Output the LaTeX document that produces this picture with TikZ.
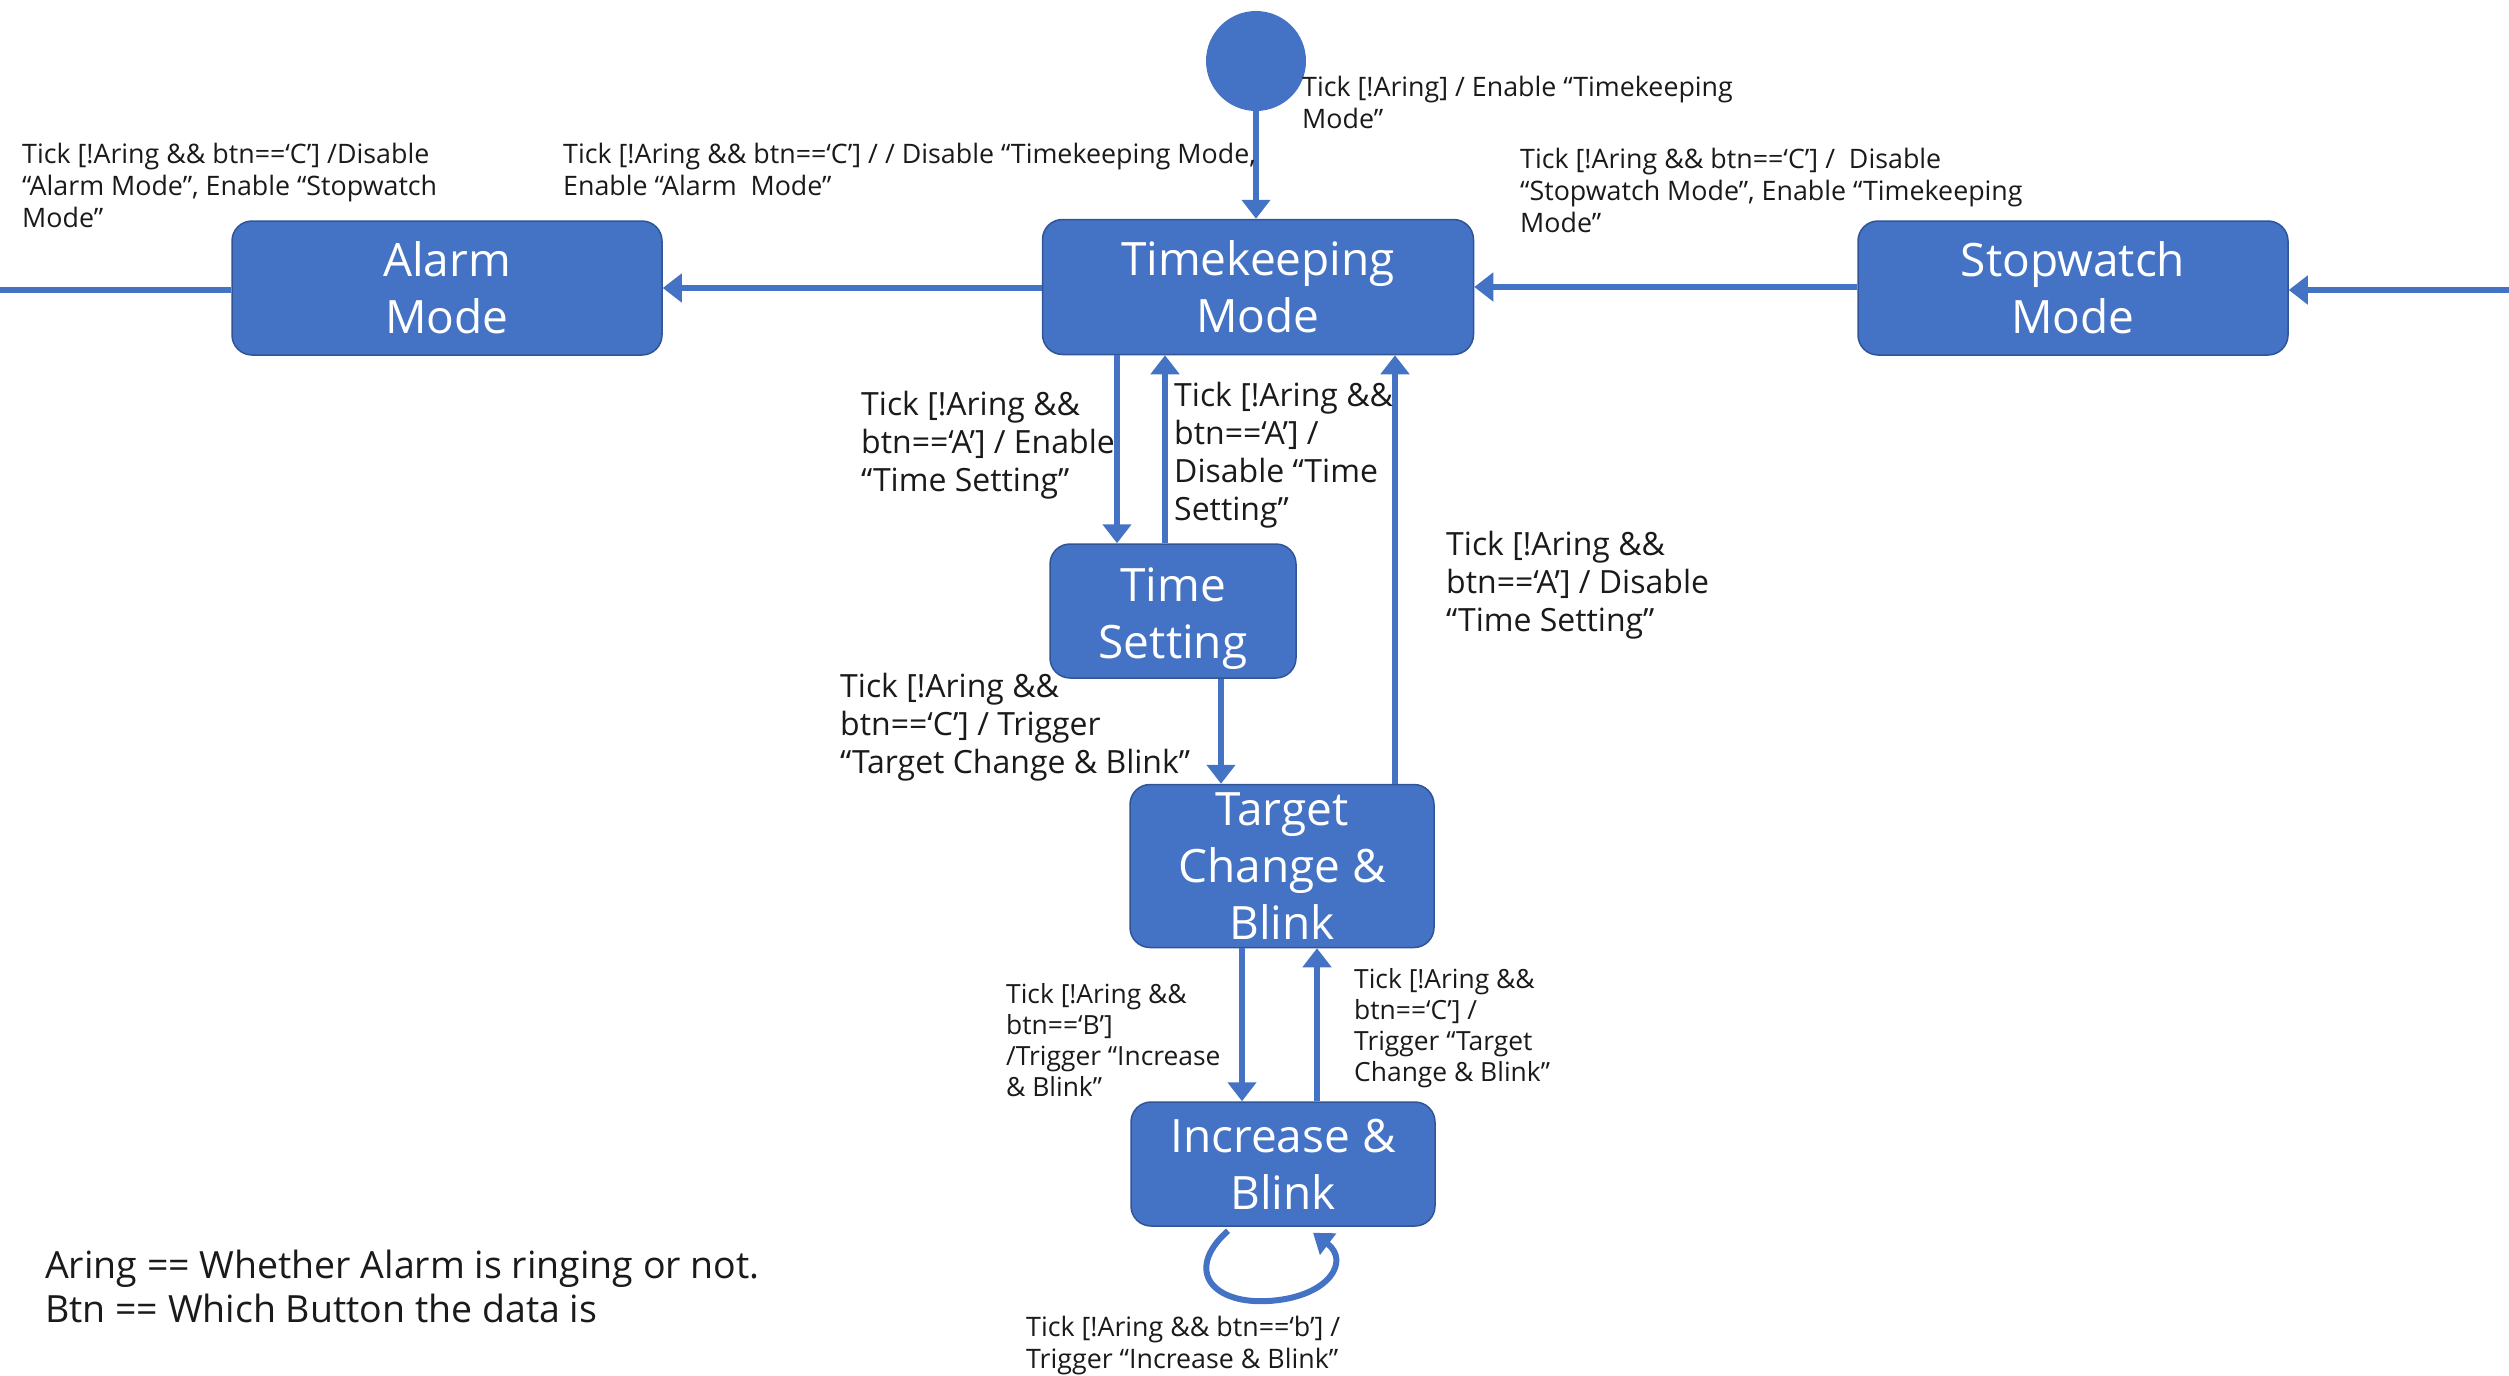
\documentclass[tikz,border=0pt]{standalone}
\usepackage{fontspec}
\setmainfont{Open Sans}
\usetikzlibrary{arrows.meta,calc}
\definecolor{boxblue}{HTML}{4472C4}
\definecolor{boxedge}{HTML}{2F5597}
\definecolor{lineblue}{HTML}{4472C4}
\definecolor{txt}{HTML}{1A1A1A}
\newcommand{\boxfont}{\fontsize{46}{57}\selectfont}
\newcommand{\smallfont}{\fontsize{26.8}{32}\selectfont}
\newcommand{\tinyfont}{\fontsize{26.4}{31}\selectfont}
\newcommand{\midfont}{\fontsize{32}{38}\selectfont}
\newcommand{\legendfont}{\fontsize{37.5}{44}\selectfont}
\begin{document}
\begin{tikzpicture}[x=1pt,y=-1pt,
  state/.style={rectangle, rounded corners=20pt, fill=boxblue, draw=boxedge,
    line width=1.5pt, text=white, font=\boxfont, align=center, inner sep=0pt},
  lbl/.style={anchor=north west, inner sep=0pt, align=left, text=txt},
  arr/.style={draw=lineblue, line width=6pt,
    -{Triangle[length=19pt,width=28pt]}},
  plain/.style={draw=lineblue, line width=6pt}]
\useasboundingbox (0,0) rectangle (2509,1376);

% states
\node[circle, fill=boxblue, minimum size=100pt, inner sep=0pt] (init) at (1256,61) {};
\node[state, minimum width=430pt, minimum height=134pt] (alarm) at (447,288) {Alarm\\Mode};
\node[state, minimum width=431pt, minimum height=135pt] (tk) at (1258,287) {Timekeeping\\Mode};
\node[state, minimum width=430pt, minimum height=134pt] (sw) at (2073,288) {Stopwatch\\Mode};
\node[state, minimum width=246pt, minimum height=134pt] (ts) at (1173,611) {};
\node[text=white, font=\boxfont, align=center, inner sep=0pt] (tstext) at ([yshift=-8pt]ts.center) {Time\\Setting};
\node[state, minimum width=304pt, minimum height=163pt] (tcb) at (1282,866) {Target\\Change \&\\Blink};
\node[state, minimum width=304pt, minimum height=124pt] (inc) at (1283,1164) {Increase \&\\Blink};

% vertical lanes for the stacked transitions
\coordinate (xa) at (1117,0);
\coordinate (xb) at (1165,0);
\coordinate (xc) at (1221,0);
\coordinate (xd) at (1395,0);
\coordinate (xe) at (1242,0);
\coordinate (xf) at (1317,0);
\coordinate (leftin) at (0,290);
\coordinate (rightin) at (2509,290);

% transitions
\draw[arr] (init.south) -- (tk.north -| init.south);
\draw[arr] (tk.west |- alarm.east) -- (alarm.east);
\draw[plain] (leftin) -- (alarm.west |- leftin);
\draw[arr] (sw.west |- tk.east) -- (tk.east);
\draw[arr] (rightin) -- (sw.east |- rightin);
\draw[arr] (tk.south -| xa) -- (ts.north -| xa);
\draw[arr] (ts.north -| xb) -- (tk.south -| xb);
\draw[arr] (ts.south -| xc) -- (tcb.north -| xc);
\draw[arr] (tcb.north -| xd) -- (tk.south -| xd);
\draw[arr] (tcb.south -| xe) -- (inc.north -| xe);
\draw[arr] (inc.north -| xf) -- (tcb.south -| xf);
\coordinate (loopa) at ($(inc.south)+(-55,4)$);
\coordinate (loopb) at ($(inc.south)+(30,6)$);
\draw[draw=lineblue, line width=6pt, -{Triangle[length=19pt,width=26pt]}]
  (loopa) .. controls ($(loopa)+(-45,40)$) and ($(loopa)+(-15,75)$) .. ($(inc.south)+(-11,74)$)
  .. controls ($(inc.south)+(47,69)$) and ($(inc.south)+(67,34)$) .. (loopb);

% transition labels
\node[lbl, font=\smallfont] (l0) at (1302,76) {Tick [!Aring] / Enable “Timekeeping\\Mode”};
\node[lbl, font=\smallfont] (l1) at (22,143) {Tick [!Aring \&\& btn==‘C’] /Disable\\“Alarm Mode”, Enable “Stopwatch\\Mode”};
\node[lbl, font=\smallfont] (l2) at (563,143) {Tick [!Aring \&\& btn==‘C’] / / Disable “Timekeeping Mode,\\Enable “Alarm\ \ Mode”};
\node[lbl, font=\smallfont] (l3) at (1520,148) {Tick [!Aring \&\& btn==‘C’] /\ \ Disable\\“Stopwatch Mode”, Enable “Timekeeping\\Mode”};
\node[lbl, font=\midfont] (l4) at (861,391) {Tick [!Aring \&\&\\btn==‘A’] / Enable\\“Time Setting”};
\node[lbl, font=\midfont] (l5) at (1174,382) {Tick [!Aring \&\&\\btn==‘A’] /\\Disable “Time\\Setting”};
\node[lbl, font=\midfont] (l6) at (1446,531) {Tick [!Aring \&\&\\btn==‘A’] / Disable\\“Time Setting”};
\node[lbl, font=\midfont] (l7) at (840,673) {Tick [!Aring \&\&\\btn==‘C’] / Trigger\\“Target Change \& Blink”};
\node[lbl, font=\tinyfont] (l8) at (1006,983) {Tick [!Aring \&\&\\btn==‘B’]\\/Trigger “Increase\\\& Blink”};
\node[lbl, font=\tinyfont] (l9) at (1354,968) {Tick [!Aring \&\&\\btn==‘C’] /\\Trigger “Target\\Change \& Blink”};
\node[lbl, font=\smallfont] (l10) at (1026,1316) {Tick [!Aring \&\& btn==‘b’] /\\Trigger “Increase \& Blink”};

% legend
\node[lbl, font=\legendfont] (legend) at (45,1250) {Aring == Whether Alarm is ringing or not.\\Btn == Which Button the data is};
\end{tikzpicture}
\end{document}
